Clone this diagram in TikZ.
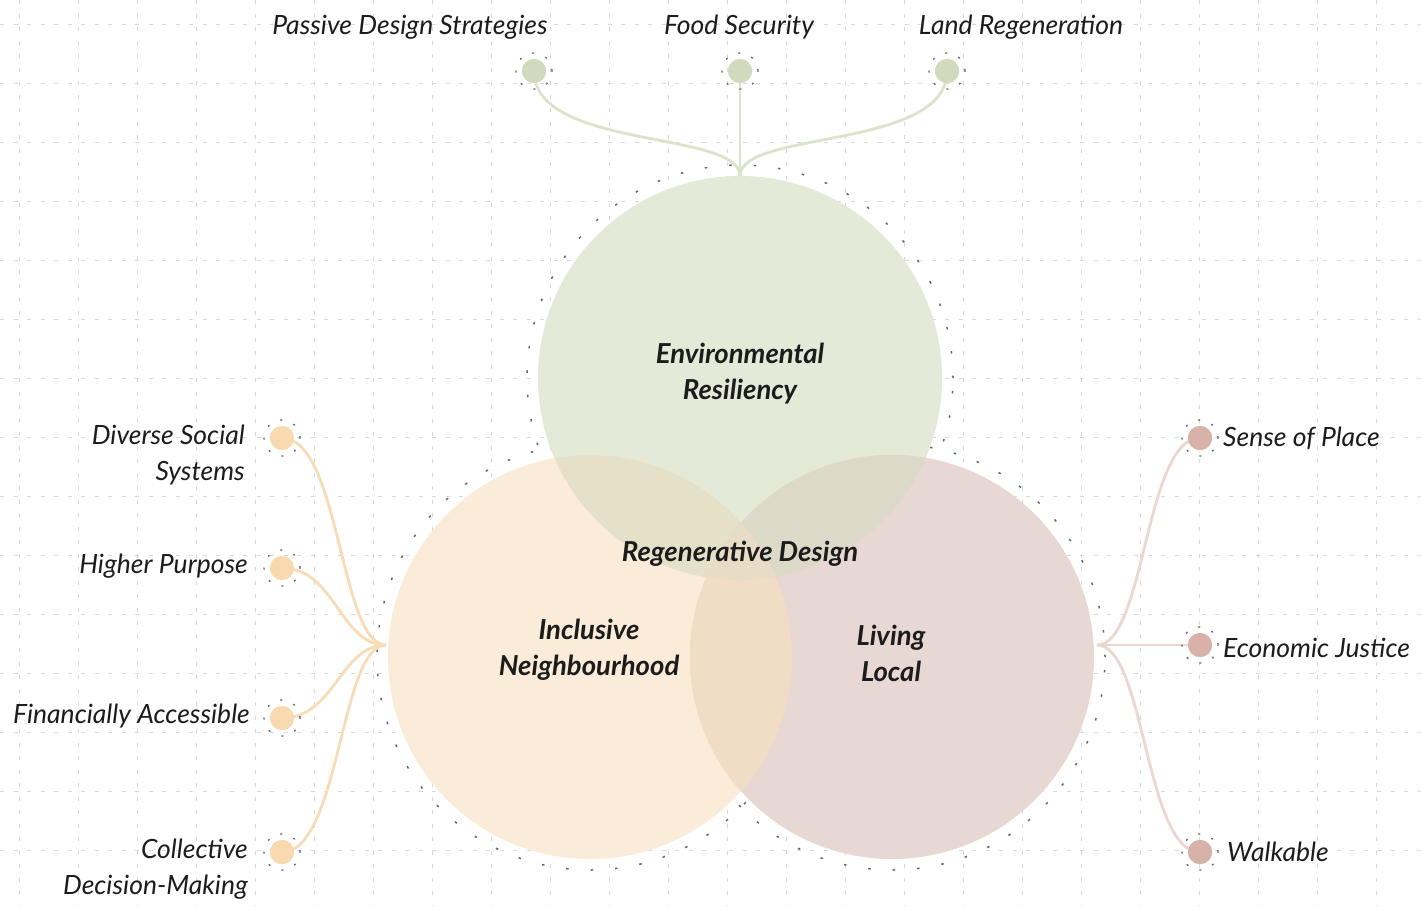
\documentclass[tikz,border=0pt]{standalone}
\usepackage{fontspec}
\setmainfont{Lato}
\definecolor{gridgray}{HTML}{D8D8D8}
\definecolor{halogray}{HTML}{666666}
\definecolor{ink}{HTML}{1C1C1C}
\definecolor{envfill}{HTML}{E5E9D8}
\definecolor{incfill}{HTML}{FBEBD9}
\definecolor{livfill}{HTML}{E8D8D3}
\definecolor{envinc}{HTML}{E4E1C8}
\definecolor{envliv}{HTML}{DCD9C9}
\definecolor{incliv}{HTML}{F1DCC5}
\definecolor{allthree}{HTML}{E8DCC6}
\definecolor{envdot}{HTML}{D1DABC}
\definecolor{incdot}{HTML}{F9D9AF}
\definecolor{livdot}{HTML}{D8B2A8}
\definecolor{envlink}{HTML}{DCE3CB}
\definecolor{inclink}{HTML}{F8DCB8}
\definecolor{livlink}{HTML}{EBD7D0}
\begin{document}
\begin{tikzpicture}[x=1pt,y=-1pt,
  gridline/.style={draw=gridgray, line width=1pt, dash pattern=on 4pt off 9.5pt},
  halo/.style={draw=halogray, line width=1.5pt, dash pattern=on 2.5pt off 22pt},
  dothalo/.style={draw=halogray, line width=1.3pt, dash pattern=on 2pt off 12pt},
  dotnode/.style={circle, inner sep=0pt, minimum size=24pt},
  link/.style={line width=2.8pt},
  lbl/.style={font=\fontsize{26.5}{36}\selectfont\itshape, text=ink, inner sep=0pt},
  core/.style={font=\fontsize{27.5}{36}\selectfont\bfseries\itshape, text=ink, inner sep=0pt, align=center},
  disc/.style={circle, inner sep=0pt, minimum size=404pt}
]
\useasboundingbox (0,0) rectangle (1421,906);
\fill[white] (0,0) rectangle (1421,906);

% background grid
\foreach \i in {0,...,23} \draw[gridline] (19.5+59*\i,0) -- (19.5+59*\i,906);
\foreach \j in {0,...,14} \draw[gridline] (0,24+59*\j) -- (1421,24+59*\j);

% centres of the three discs
\coordinate (cE) at (740,378);
\coordinate (cI) at (590,657);
\coordinate (cL) at (892,657);

% dotted outlines behind the discs
\draw[halo] (cE) circle[radius=213pt];
\draw[halo] (cI) circle[radius=213pt];
\draw[halo] (cL) circle[radius=213pt];

% the discs
\node[disc, fill=envfill] (env) at (cE) {};
\node[disc, fill=incfill] (inc) at (cI) {};
\node[disc, fill=livfill] (liv) at (cL) {};

% overlaps
\begin{scope}
  \clip (cE) circle[radius=202pt];
  \fill[envinc] (cI) circle[radius=202pt];
  \fill[envliv] (cL) circle[radius=202pt];
\end{scope}
\begin{scope}
  \clip (cI) circle[radius=202pt];
  \fill[incliv] (cL) circle[radius=202pt];
\end{scope}
\begin{scope}
  \clip (cE) circle[radius=202pt];
  \clip (cI) circle[radius=202pt];
  \fill[allthree] (cL) circle[radius=202pt];
\end{scope}

% junction points on the disc edges
\coordinate (jE) at (740,176);
\coordinate (jI) at (386,645);
\coordinate (jL) at (1097,645);

% satellite dots
\node[dotnode, fill=envdot] (pds) at (534,71) {};
\node[dotnode, fill=envdot] (fs)  at (740,71) {};
\node[dotnode, fill=envdot] (lr)  at (947,71) {};
\node[dotnode, fill=incdot] (dss) at (282,438) {};
\node[dotnode, fill=incdot] (hp)  at (282,568) {};
\node[dotnode, fill=incdot] (fa)  at (282,718) {};
\node[dotnode, fill=incdot] (cdm) at (282,852) {};
\node[dotnode, fill=livdot] (sp)  at (1200,438) {};
\node[dotnode, fill=livdot] (ej)  at (1200,645) {};
\node[dotnode, fill=livdot] (wk)  at (1200,852) {};

% connectors
\draw[link, envlink] (pds.center) .. controls (534,150) and (740,130) .. (jE);
\draw[link, envlink] (fs.center) -- (jE);
\draw[link, envlink] (lr.center) .. controls (947,150) and (740,130) .. (jE);
\draw[link, inclink] (dss.center) .. controls (340,438) and (340,645) .. (jI);
\draw[link, inclink] (hp.center) .. controls (335,568) and (340,645) .. (jI);
\draw[link, inclink] (fa.center) .. controls (335,718) and (340,645) .. (jI);
\draw[link, inclink] (cdm.center) .. controls (340,852) and (340,645) .. (jI);
\draw[link, livlink] (sp.center) .. controls (1145,438) and (1145,645) .. (jL);
\draw[link, livlink] (ej.center) -- (jL);
\draw[link, livlink] (wk.center) .. controls (1145,852) and (1145,645) .. (jL);

% dots over the connector ends, with their dotted rings
\foreach \d/\c in {pds/envdot,fs/envdot,lr/envdot,dss/incdot,hp/incdot,fa/incdot,cdm/incdot,sp/livdot,ej/livdot,wk/livdot}{
  \draw[dothalo] (\d.center) circle[radius=18pt];
  \fill[\c] (\d.center) circle[radius=12pt];
}

% outer labels
\node[lbl] (tpds) at (410,27) {Passive Design Strategies};
\node[lbl] (tfs)  at (739,27) {Food Security};
\node[lbl] (tlr)  at (1021,27) {Land Regeneration};
\node[lbl, anchor=east, align=right] (tdss) at (245,455) {Diverse Social\\Systems};
\node[lbl, anchor=east] (thp)  at (248,566) {Higher Purpose};
\node[lbl, anchor=east] (tfa)  at (250,716) {Financially Accessible};
\node[lbl, anchor=east, align=right] (tcdm) at (248,869) {Collective\\Decision-Making};
\node[lbl, anchor=west] (tsp)  at (1223,438) {Sense of Place};
\node[lbl, anchor=west] (tej)  at (1223,648) {Economic Justice};
\node[lbl, anchor=west] (twk)  at (1227,852) {Walkable};

% disc labels
\node[core] (tenv) at (740,374) {Environmental\\Resiliency};
\node[core] (treg) at (740,554) {Regenerative Design};
\node[core] (tinc) at (589,650) {Inclusive\\Neighbourhood};
\node[core] (tliv) at (891,653) {Living\\Local};
\end{tikzpicture}
\end{document}
